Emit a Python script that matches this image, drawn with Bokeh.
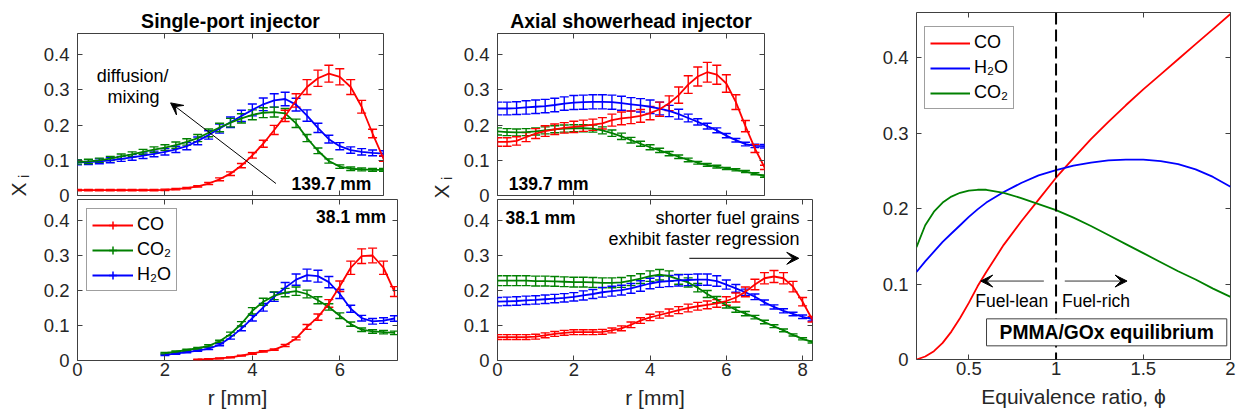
import numpy as np
from bokeh.embed import file_html
from bokeh.layouts import column, row
from bokeh.models import (Arrow, ColumnDataSource, FixedTicker, Label, Legend, LegendItem,
                          LinearAxis, PrintfTickFormatter, Range1d, Span, TeeHead, VeeHead,
                          Whisker)
from bokeh.plotting import figure
from bokeh.resources import INLINE

FONT = "Liberation Sans"
INK = "#262626"
EDGE = "#404040"
RED, GREEN, BLUE = "#ff0000", "#008000", "#0000ff"
Y_END = 0.46
Y_TICKS = [0, 0.1, 0.2, 0.3, 0.4]

# ---------------------------------------------------------------------------
# Single-port injector, 139.7 mm grain: radial mole-fraction profiles
sp139_r = [0.0, 0.25, 0.5, 0.75, 1.0, 1.25, 1.5, 1.75, 2.0, 2.25, 2.5, 2.75, 3.0, 3.25,
           3.5, 3.75, 4.0, 4.25, 4.5, 4.75, 5.0, 5.25, 5.5, 5.75, 6.0, 6.25, 6.5, 6.75, 7.0]
sp139_co = [0.015, 0.015, 0.015, 0.015, 0.015, 0.015, 0.015, 0.015, 0.016, 0.018, 0.021,
            0.026, 0.034, 0.046, 0.062, 0.085, 0.114, 0.147, 0.186, 0.226, 0.270, 0.308,
            0.333, 0.346, 0.337, 0.308, 0.252, 0.176, 0.105]
sp139_co_err = [0.002, 0.002, 0.002, 0.002, 0.002, 0.002, 0.002, 0.002, 0.002, 0.002, 0.002,
                0.002, 0.003, 0.004, 0.005, 0.006, 0.008, 0.010, 0.013, 0.016, 0.019, 0.021,
                0.023, 0.024, 0.023, 0.021, 0.018, 0.012, 0.008]
sp139_h2o = [0.094, 0.095, 0.097, 0.100, 0.104, 0.108, 0.113, 0.118, 0.124, 0.131, 0.140,
             0.155, 0.172, 0.190, 0.208, 0.226, 0.243, 0.259, 0.270, 0.274, 0.258, 0.227,
             0.192, 0.160, 0.140, 0.129, 0.124, 0.121, 0.119]
sp139_h2o_err = [0.007, 0.007, 0.007, 0.007, 0.007, 0.008, 0.008, 0.008, 0.009, 0.009, 0.010,
                 0.011, 0.012, 0.013, 0.015, 0.016, 0.017, 0.018, 0.019, 0.019, 0.018, 0.016,
                 0.013, 0.011, 0.010, 0.009, 0.009, 0.008, 0.008]
sp139_co2 = [0.095, 0.097, 0.100, 0.105, 0.111, 0.117, 0.124, 0.130, 0.136, 0.143, 0.152,
             0.163, 0.178, 0.193, 0.207, 0.219, 0.229, 0.235, 0.237, 0.233, 0.205, 0.163,
             0.127, 0.098, 0.082, 0.076, 0.074, 0.073, 0.073]
sp139_co2_err = [0.006, 0.006, 0.006, 0.006, 0.007, 0.007, 0.007, 0.008, 0.008, 0.009, 0.009,
                 0.010, 0.011, 0.012, 0.012, 0.013, 0.014, 0.014, 0.014, 0.014, 0.012, 0.010,
                 0.008, 0.006, 0.005, 0.005, 0.004, 0.004, 0.004]

# Single-port injector, 38.1 mm grain
sp38_r = [2.0, 2.25, 2.5, 2.75, 3.0, 3.25, 3.5, 3.75, 4.0, 4.25, 4.5, 4.75, 5.0, 5.25, 5.5,
          5.75, 6.0, 6.25, 6.5, 6.75, 7.0, 7.25]
sp38_h2o = [0.016, 0.020, 0.024, 0.028, 0.034, 0.045, 0.066, 0.091, 0.121, 0.152, 0.182,
            0.208, 0.231, 0.244, 0.241, 0.224, 0.190, 0.148, 0.121, 0.112, 0.114, 0.120]
sp38_h2o_err = [0.002, 0.002, 0.002, 0.002, 0.003, 0.003, 0.005, 0.006, 0.008, 0.011, 0.013,
                0.015, 0.016, 0.017, 0.017, 0.016, 0.013, 0.010, 0.008, 0.008, 0.008, 0.008]
sp38_co2 = [0.021, 0.025, 0.030, 0.035, 0.042, 0.055, 0.076, 0.105, 0.142, 0.168, 0.185,
            0.194, 0.198, 0.190, 0.172, 0.153, 0.128, 0.104, 0.088, 0.083, 0.081, 0.079]
sp38_co2_err = [0.002, 0.002, 0.002, 0.002, 0.003, 0.003, 0.005, 0.006, 0.009, 0.010, 0.011,
                0.012, 0.012, 0.011, 0.010, 0.009, 0.008, 0.006, 0.005, 0.005, 0.005, 0.005]
sp38_co_r = [2.75, 3.0, 3.25, 3.5, 3.75, 4.0, 4.25, 4.5, 4.75, 5.0, 5.25, 5.5, 5.75, 6.0,
             6.25, 6.5, 6.75, 7.0, 7.25]
sp38_co = [0.003, 0.004, 0.006, 0.009, 0.014, 0.020, 0.026, 0.031, 0.043, 0.063, 0.096,
           0.124, 0.163, 0.212, 0.265, 0.298, 0.300, 0.265, 0.197]
sp38_co_err = [0.001, 0.001, 0.001, 0.001, 0.001, 0.002, 0.002, 0.002, 0.003, 0.004, 0.007,
               0.009, 0.011, 0.015, 0.019, 0.021, 0.021, 0.019, 0.014]

# Axial showerhead injector, 139.7 mm grain
sh139_r = sp139_r
sh139_co = [0.152, 0.152, 0.155, 0.166, 0.176, 0.183, 0.188, 0.192, 0.195, 0.198, 0.201,
            0.205, 0.214, 0.219, 0.222, 0.226, 0.234, 0.245, 0.262, 0.285, 0.315, 0.338,
            0.350, 0.343, 0.318, 0.265, 0.197, 0.133, 0.080]
sh139_co_err = [0.012, 0.012, 0.012, 0.013, 0.014, 0.015, 0.015, 0.015, 0.016, 0.016, 0.016,
                0.016, 0.017, 0.018, 0.018, 0.018, 0.019, 0.020, 0.021, 0.023, 0.025, 0.027,
                0.028, 0.027, 0.025, 0.021, 0.016, 0.011, 0.006]
sh139_h2o = [0.247, 0.247, 0.248, 0.250, 0.252, 0.254, 0.257, 0.261, 0.264, 0.265, 0.266,
             0.266, 0.265, 0.262, 0.259, 0.256, 0.252, 0.247, 0.240, 0.231, 0.220, 0.209,
             0.197, 0.185, 0.170, 0.157, 0.146, 0.141, 0.140]
sh139_h2o_err = [0.018, 0.018, 0.018, 0.019, 0.019, 0.019, 0.019, 0.019, 0.020, 0.020, 0.020,
                 0.020, 0.020, 0.020, 0.019, 0.019, 0.019, 0.018, 0.016, 0.014, 0.011, 0.009,
                 0.008, 0.007, 0.006, 0.005, 0.005, 0.005, 0.005]
sh139_co2 = [0.182, 0.180, 0.179, 0.180, 0.182, 0.185, 0.188, 0.190, 0.191, 0.191, 0.190,
             0.185, 0.177, 0.168, 0.157, 0.147, 0.137, 0.128, 0.119, 0.110, 0.101, 0.093,
             0.087, 0.082, 0.077, 0.073, 0.068, 0.062, 0.055]
sh139_co2_err = [0.010, 0.010, 0.010, 0.010, 0.010, 0.010, 0.010, 0.010, 0.010, 0.010, 0.010,
                 0.010, 0.009, 0.009, 0.008, 0.007, 0.007, 0.006, 0.006, 0.005, 0.005, 0.004,
                 0.004, 0.004, 0.003, 0.003, 0.003, 0.003, 0.003]

# Axial showerhead injector, 38.1 mm grain
sh38_r = [0.0, 0.25, 0.5, 0.75, 1.0, 1.25, 1.5, 1.75, 2.0, 2.25, 2.5, 2.75, 3.0, 3.25, 3.5,
          3.75, 4.0, 4.25, 4.5, 4.75, 5.0, 5.25, 5.5, 5.75, 6.0, 6.25, 6.5, 6.75, 7.0, 7.25,
          7.5, 7.75, 8.0, 8.25]
sh38_co2 = [0.228, 0.228, 0.228, 0.228, 0.227, 0.227, 0.226, 0.225, 0.224, 0.224, 0.223,
            0.222, 0.222, 0.223, 0.228, 0.234, 0.241, 0.245, 0.241, 0.232, 0.223, 0.208,
            0.190, 0.174, 0.158, 0.145, 0.134, 0.124, 0.110, 0.098, 0.086, 0.073, 0.062, 0.053]
sh38_co2_err = [0.014, 0.014, 0.014, 0.014, 0.014, 0.014, 0.014, 0.014, 0.014, 0.014, 0.014,
                0.014, 0.014, 0.014, 0.014, 0.014, 0.015, 0.015, 0.015, 0.014, 0.013, 0.012,
                0.010, 0.009, 0.008, 0.007, 0.006, 0.005, 0.005, 0.004, 0.004, 0.003, 0.003,
                0.003]
sh38_h2o = [0.168, 0.169, 0.170, 0.172, 0.173, 0.175, 0.177, 0.179, 0.182, 0.186, 0.190,
            0.195, 0.198, 0.201, 0.206, 0.213, 0.220, 0.225, 0.227, 0.229, 0.230, 0.231,
            0.231, 0.227, 0.217, 0.206, 0.195, 0.182, 0.166, 0.153, 0.142, 0.133, 0.125, 0.118]
sh38_h2o_err = [0.012, 0.012, 0.012, 0.012, 0.012, 0.012, 0.012, 0.012, 0.012, 0.013, 0.013,
                0.014, 0.014, 0.014, 0.014, 0.015, 0.015, 0.016, 0.016, 0.016, 0.016, 0.016,
                0.016, 0.015, 0.013, 0.011, 0.009, 0.008, 0.007, 0.006, 0.006, 0.005, 0.005,
                0.005]
sh38_co = [0.067, 0.067, 0.067, 0.067, 0.068, 0.072, 0.076, 0.079, 0.081, 0.081, 0.081,
           0.082, 0.086, 0.092, 0.102, 0.114, 0.123, 0.130, 0.137, 0.144, 0.150, 0.155,
           0.159, 0.163, 0.170, 0.180, 0.196, 0.217, 0.235, 0.240, 0.235, 0.211, 0.168, 0.118]
sh38_co_err = [0.007, 0.007, 0.007, 0.007, 0.007, 0.007, 0.007, 0.007, 0.007, 0.007, 0.007,
               0.007, 0.007, 0.007, 0.008, 0.008, 0.009, 0.009, 0.010, 0.010, 0.011, 0.011,
               0.011, 0.011, 0.012, 0.013, 0.014, 0.015, 0.016, 0.017, 0.016, 0.015, 0.012,
               0.008]

# PMMA/GOx chemical equilibrium versus equivalence ratio
phi = [0.2, 0.25, 0.3, 0.35, 0.4, 0.45, 0.5, 0.55, 0.6, 0.7, 0.8, 0.9, 1.0, 1.1, 1.2, 1.3,
       1.4, 1.5, 1.6, 1.7, 1.8, 1.9, 2.0]
eq_co = [0.0, 0.004, 0.011, 0.022, 0.037, 0.055, 0.075, 0.097, 0.116, 0.152, 0.183, 0.212,
         0.241, 0.267, 0.292, 0.315, 0.337, 0.358, 0.378, 0.398, 0.418, 0.438, 0.458]
eq_h2o = [0.116, 0.130, 0.143, 0.156, 0.167, 0.178, 0.189, 0.199, 0.208, 0.222, 0.234, 0.244,
          0.251, 0.257, 0.261, 0.264, 0.265, 0.265, 0.263, 0.259, 0.252, 0.242, 0.229]
eq_co2 = [0.149, 0.178, 0.196, 0.208, 0.216, 0.221, 0.224, 0.225, 0.225, 0.221, 0.214, 0.206,
          0.198, 0.188, 0.177, 0.165, 0.153, 0.141, 0.129, 0.117, 0.106, 0.094, 0.083]

R_TICKS = [0, 2, 4, 6]
R_TICKS_WIDE = [0, 2, 4, 6, 8]
PHI_TICKS = [0.5, 1, 1.5, 2]


def new_panel(width, height, x_range, y_range, borders, title=None, see_through=False,
              margin=None):
    left, right, top, bottom = borders
    p = figure(width=width, height=height, x_range=x_range, y_range=y_range,
               x_axis_type=None, y_axis_type=None, toolbar_location=None,
               output_backend="svg", min_border_left=left, min_border_right=right,
               min_border_top=top, min_border_bottom=bottom, frame_align=False,
               outline_line_color=EDGE, outline_line_width=1,
               background_fill_color="white", border_fill_color="white")
    if see_through:
        # lower panel overlaps the upper one slightly, so keep it transparent
        p.background_fill_alpha = 0
        p.border_fill_alpha = 0
    if margin is not None:
        p.margin = margin
    if title:
        p.title.text = title
        p.title.align = "center"
        p.title.text_font = FONT
        p.title.text_font_size = "19.5px"
        p.title.text_font_style = "bold"
        p.title.text_color = "black"
        p.title.standoff = 4
    return p


def add_axes(p, x_ticks, y_ticks, label_x, x_title=None):
    specs = [("left", y_ticks, True), ("right", y_ticks, False),
             ("below", x_ticks, label_x), ("above", x_ticks, False)]
    for side, ticks, labelled in specs:
        ax = LinearAxis(ticker=FixedTicker(ticks=ticks),
                        formatter=PrintfTickFormatter(format="%g" if labelled else ""),
                        axis_line_color=None, major_tick_in=5, major_tick_out=0,
                        major_tick_line_color=EDGE, minor_tick_line_color=None,
                        major_label_text_font=FONT, major_label_text_color=INK,
                        major_label_text_font_size="18.5px" if labelled else "0px",
                        major_label_standoff=(8 if side == "left" else 2) if labelled else 0)
        if side == "below" and x_title:
            ax.axis_label = x_title
            ax.axis_label_text_font = FONT
            ax.axis_label_text_font_size = "21px"
            ax.axis_label_text_font_style = "normal"
            ax.axis_label_text_color = INK
            ax.axis_label_standoff = 7
        p.add_layout(ax, side)


def profile(p, r, x, err, color):
    src = ColumnDataSource(dict(r=r, x=x, lo=np.subtract(x, err), hi=np.add(x, err)))
    head = dict(size=9, line_color=color, line_width=1.4)
    p.add_layout(Whisker(source=src, base="r", lower="lo", upper="hi", line_color=color,
                         line_width=1.4, upper_head=TeeHead(**head),
                         lower_head=TeeHead(**head)))
    return p.line("r", "x", source=src, line_color=color, line_width=1.8)


def legend_bar(p, color):
    # an unplotted cross, used only as the legend's error-bar symbol
    return p.scatter(x=[np.nan], y=[np.nan], marker="cross", size=15,
                     line_color=color, line_width=1.5)


def note(p, x, y, text, size="18px", bold=False, align="center", **kw):
    p.add_layout(Label(x=x, y=y, text=text, text_font=FONT, text_font_size=size,
                       text_font_style="bold" if bold else "normal", text_color="black",
                       text_align=align, text_baseline="middle", **kw))


def arrow(p, x0, y0, x1, y1, color="black"):
    p.add_layout(Arrow(x_start=x0, y_start=y0, x_end=x1, y_end=y1, line_color=color,
                       line_width=1,
                       end=VeeHead(size=12, line_color="black", fill_color="black",
                                   line_width=1)))


def x_sub_i(p, x, y, dx, dy=0):
    # "X" with subscript "i", rotated to read bottom-to-top
    p.add_layout(Label(x=x, y=y, x_offset=dx, y_offset=dy,
                       text="X", angle=np.pi / 2, text_font=FONT, text_font_size="21px",
                       text_color=INK, text_align="center", text_baseline="middle"))
    p.add_layout(Label(x=x, y=y, x_offset=dx + 5, y_offset=dy + 13, text="i",
                       angle=np.pi / 2, text_font=FONT, text_font_size="14px",
                       text_color=INK, text_align="center", text_baseline="middle"))


def ylabel_strip():
    return figure(width=35, height=418, x_range=Range1d(0, 35), y_range=Range1d(0, 418),
                  x_axis_type=None, y_axis_type=None, toolbar_location=None,
                  output_backend="svg", min_border=0, frame_align=False,
                  outline_line_color=None, background_fill_color="white",
                  border_fill_color="white")


def legend(items, location):
    return Legend(items=items, location=location, orientation="vertical", glyph_width=41,
                  glyph_height=20, label_height=20, label_standoff=4, padding=5,
                  spacing=4, margin=0, label_text_font=FONT, label_text_font_size="18px",
                  label_text_color="black", border_line_color=EDGE, border_line_width=1,
                  background_fill_color="white", background_fill_alpha=1)


# ---------------- single-port injector column ----------------
sp_top = new_panel(385, 210, Range1d(0, 7.0), Range1d(0, Y_END), (42, 37, 33, 15),
                   "Single-port injector")
add_axes(sp_top, R_TICKS, Y_TICKS, False)
profile(sp_top, sp139_r, sp139_h2o, sp139_h2o_err, BLUE)
profile(sp_top, sp139_r, sp139_co2, sp139_co2_err, GREEN)
profile(sp_top, sp139_r, sp139_co, sp139_co_err, RED)
arrow(sp_top, 4.54, 0.034, 2.13, 0.263)
note(sp_top, 1.26, 0.34, "diffusion/")
note(sp_top, 1.28, 0.28, "mixing")
note(sp_top, 5.81, 0.034, "139.7 mm", size="17.5px", bold=True)

sp_bot = new_panel(385, 219, Range1d(0, 7.32), Range1d(0, Y_END), (42, 23, 0, 58),
                   see_through=True, margin=(-11, 0, 0, 0))
add_axes(sp_bot, R_TICKS, Y_TICKS, True, "r [mm]")
h_line = profile(sp_bot, sp38_r, sp38_h2o, sp38_h2o_err, BLUE)
g_line = profile(sp_bot, sp38_r, sp38_co2, sp38_co2_err, GREEN)
c_line = profile(sp_bot, sp38_co_r, sp38_co, sp38_co_err, RED)
note(sp_bot, 7.06, 0.411, "38.1 mm", size="17.5px", bold=True, align="right")
sp_bot.add_layout(legend(
    [LegendItem(label="CO", renderers=[c_line, legend_bar(sp_bot, RED)]),
     LegendItem(label="CO\u2082", renderers=[g_line, legend_bar(sp_bot, GREEN)]),
     LegendItem(label="H\u2082O", renderers=[h_line, legend_bar(sp_bot, BLUE)])],
    (9, 69)))

# ---------------- axial showerhead column ----------------
sh_top = new_panel(385, 210, Range1d(0, 7.0), Range1d(0, Y_END), (42, 76, 33, 15),
                   "Axial showerhead injector")
add_axes(sh_top, R_TICKS, Y_TICKS, False)
profile(sh_top, sh139_r, sh139_h2o, sh139_h2o_err, BLUE)
profile(sh_top, sh139_r, sh139_co2, sh139_co2_err, GREEN)
profile(sh_top, sh139_r, sh139_co, sh139_co_err, RED)
note(sh_top, 1.34, 0.034, "139.7 mm", size="17.5px", bold=True)

sh_bot = new_panel(385, 219, Range1d(0, 8.26), Range1d(0, Y_END), (42, 28, 0, 58),
                   see_through=True, margin=(-11, 0, 0, 0))
add_axes(sh_bot, R_TICKS_WIDE, Y_TICKS, True, "r [mm]")
profile(sh_bot, sh38_r, sh38_co2, sh38_co2_err, GREEN)
profile(sh_bot, sh38_r, sh38_h2o, sh38_h2o_err, BLUE)
profile(sh_bot, sh38_r, sh38_co, sh38_co_err, RED)
note(sh_bot, 1.13, 0.408, "38.1 mm", size="17.5px", bold=True)
note(sh_bot, 7.92, 0.408, "shorter fuel grains", align="right")
note(sh_bot, 7.92, 0.347, "exhibit faster regression", align="right")
arrow(sh_bot, 5.03, 0.292, 7.9, 0.292)

# ---------------- equilibrium panel ----------------
eq = new_panel(402, 418, Range1d(0.2, 2.0), Range1d(0, Y_END), (76, 12, 12, 59))
add_axes(eq, PHI_TICKS, Y_TICKS, True, "Equivalence ratio, \u03d5")
eq.add_layout(Span(location=1.0, dimension="height", line_color="black", line_width=2,
                   line_dash="12 5"))
r_co = eq.line(phi, eq_co, line_color=RED, line_width=1.8)
r_h2o = eq.line(phi, eq_h2o, line_color=BLUE, line_width=1.8)
r_co2 = eq.line(phi, eq_co2, line_color=GREEN, line_width=1.8)
arrow(eq, 0.93, 0.104, 0.568, 0.104, color="#333333")
arrow(eq, 1.05, 0.104, 1.407, 0.104, color="#333333")
note(eq, 0.746, 0.078, "Fuel-lean", size="17.5px")
note(eq, 1.229, 0.078, "Fuel-rich", size="17.5px")
eq.add_layout(Label(x=1.29, y=0.036, text="PMMA/GOx equilibrium", text_font=FONT,
                    text_font_size="19.3px", text_font_style="bold", text_color="black",
                    text_align="center", text_baseline="middle", padding=(13, 3),
                    border_line_color=EDGE, border_line_width=1,
                    background_fill_color="white", background_fill_alpha=1))
eq_legend = legend([LegendItem(label="CO", renderers=[r_co]),
                    LegendItem(label="H\u2082O", renderers=[r_h2o]),
                    LegendItem(label="CO\u2082", renderers=[r_co2])], (8, 250))
eq_legend.glyph_width = 40
eq.add_layout(eq_legend)
x_sub_i(eq, 0.2, 0.224, -61)

# ---------------- y-axis titles shared by the stacked panels ----------------
sp_ylab = ylabel_strip()
x_sub_i(sp_ylab, 18, 229, 0)
sh_ylab = ylabel_strip()
x_sub_i(sh_ylab, 21, 227, 0)

page = row(sp_ylab, column(sp_top, sp_bot), sh_ylab, column(sh_top, sh_bot), eq)
open("out.html", "w").write(file_html(page, INLINE, title="Species profiles"))
